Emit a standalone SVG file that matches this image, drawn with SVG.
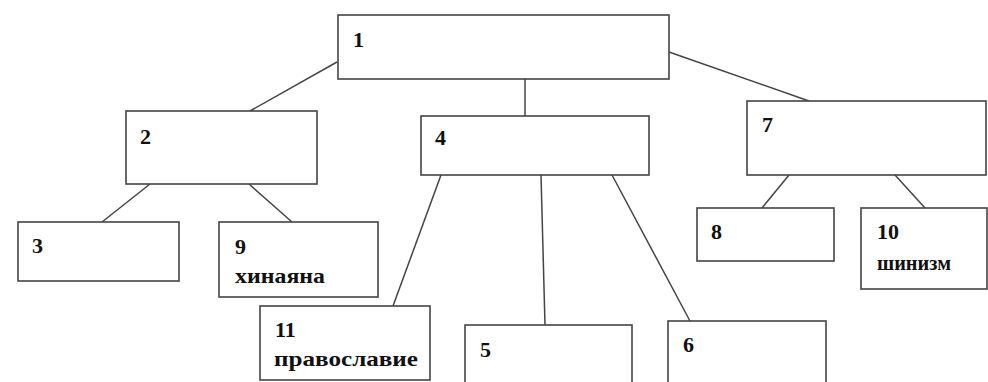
<svg xmlns="http://www.w3.org/2000/svg" width="988" height="382" viewBox="0 0 988 382">
<style>
.box{fill:#fff;stroke:#444;stroke-width:1.6}
.ln{stroke:#444;stroke-width:1.5;fill:none}
.t{font-family:"Liberation Serif","DejaVu Serif",serif;font-weight:700;font-size:22px;fill:#111}
.s{font-size:20px}
</style>
<rect width="988" height="382" fill="#fff"/>
<g id="connectors">
<line class="ln" x1="337" y1="62" x2="250" y2="111"/>
<line class="ln" x1="525" y1="79" x2="525" y2="116"/>
<line class="ln" x1="669" y1="52" x2="809" y2="101"/>
<line class="ln" x1="150" y1="184" x2="102" y2="222"/>
<line class="ln" x1="249" y1="184" x2="292" y2="222"/>
<line class="ln" x1="441" y1="175" x2="393" y2="306"/>
<line class="ln" x1="541" y1="175" x2="545" y2="325"/>
<line class="ln" x1="612" y1="175" x2="690" y2="321"/>
<line class="ln" x1="789" y1="175" x2="762" y2="208"/>
<line class="ln" x1="895" y1="175" x2="925" y2="208"/>
</g>
<g id="n1"><rect class="box" x="338" y="15" width="331" height="64"/><text class="t" x="353" y="47">1</text></g>
<g id="n2"><rect class="box" x="126" y="111" width="191" height="73"/><text class="t" x="140" y="144">2</text></g>
<g id="n4"><rect class="box" x="421" y="116" width="228" height="59"/><text class="t" x="435" y="145">4</text></g>
<g id="n7"><rect class="box" x="747" y="101" width="239" height="74"/><text class="t" x="762" y="132">7</text></g>
<g id="n3"><rect class="box" x="18" y="222" width="161" height="59"/><text class="t" x="32" y="253">3</text></g>
<g id="n9"><rect class="box" x="219" y="222" width="159" height="75"/><text class="t" x="235" y="254">9</text><text class="t" x="235" y="283" textLength="90" lengthAdjust="spacingAndGlyphs">хинаяна</text></g>
<g id="n11"><rect class="box" x="260" y="306" width="170" height="74"/><text class="t" x="275" y="337">11</text><text class="t" x="274" y="366" textLength="144" lengthAdjust="spacingAndGlyphs">православие</text></g>
<g id="n5"><rect class="box" x="465" y="325" width="167" height="70"/><text class="t" x="480" y="357">5</text></g>
<g id="n6"><rect class="box" x="668" y="321" width="158" height="74"/><text class="t" x="683" y="352">6</text></g>
<g id="n8"><rect class="box" x="697" y="208" width="137" height="53"/><text class="t" x="711" y="239">8</text></g>
<g id="n10"><rect class="box" x="861" y="208" width="126" height="81"/><text class="t" x="877" y="239">10</text><text class="t s" x="877" y="270" textLength="74" lengthAdjust="spacingAndGlyphs">шинизм</text></g>
</svg>
